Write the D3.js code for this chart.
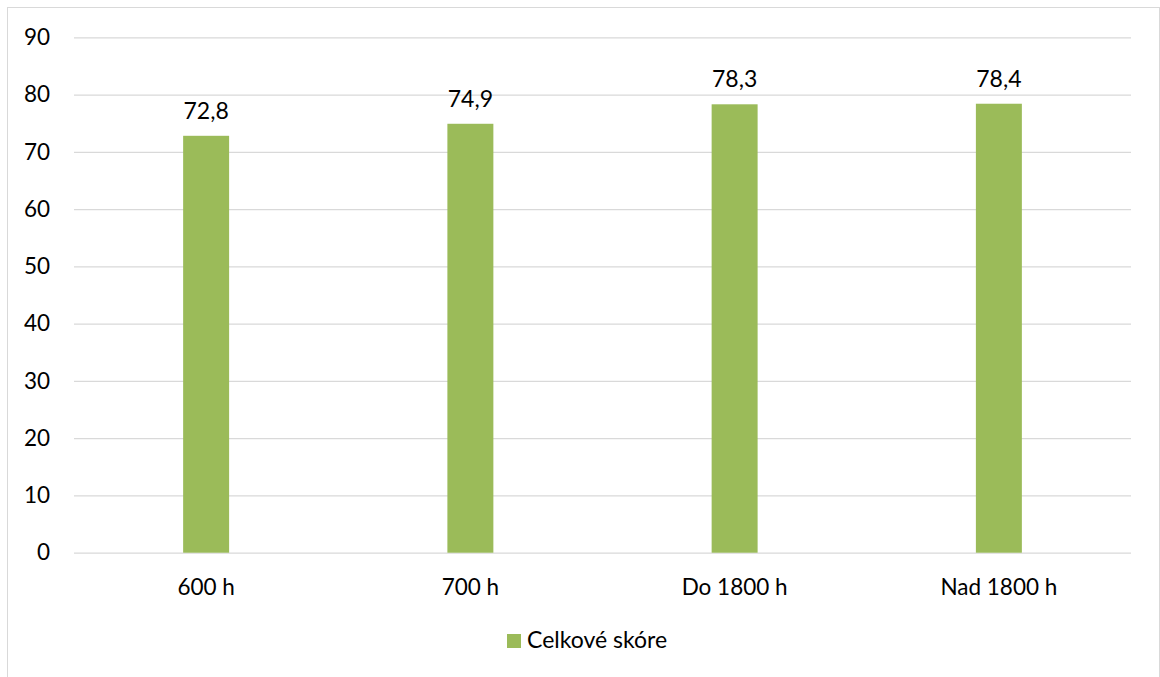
<!DOCTYPE html>
<html><head><meta charset="utf-8">
<script src="https://cdn.jsdelivr.net/npm/d3@7"></script>
<style>
html,body{margin:0;padding:0;background:#fff;}
svg{display:block;font-family:Lato,"Open Sans",sans-serif;}
</style></head>
<body>
<svg id="chart" width="1160" height="677"></svg>
<script>
const categories = ["600 h", "700 h", "Do 1800 h", "Nad 1800 h"];
const values = [72.8, 74.9, 78.3, 78.4];
const yTicks = [0, 10, 20, 30, 40, 50, 60, 70, 80, 90];
const seriesName = "Celkové skóre";

const svg = d3.select("#chart");
const m = {left: 74, right: 1131, top: 37.3, bottom: 552.7};
const color = "#9BBB59";
const grid = "#d9d9d9";

// chart border
svg.append("rect").attr("x", 7.5).attr("y", 7.5).attr("width", 1152).attr("height", 690)
  .attr("fill", "#fff").attr("stroke", grid).attr("stroke-width", 1);

const x = d3.scaleBand().domain(categories).range([m.left, m.right]).paddingInner(0.826).paddingOuter(0.413);
const y = d3.scaleLinear().domain([0, 90]).range([m.bottom, m.top]);

// gridlines + y tick labels
const gAxis = svg.append("g").attr("transform", `translate(${m.left},0)`)
  .call(d3.axisLeft(y).tickValues(yTicks).tickSize(-(m.right - m.left)).tickPadding(24).tickFormat(d3.format("d")));
gAxis.select(".domain").remove();
gAxis.selectAll(".tick line").attr("stroke", grid).attr("stroke-width", 1.2);
gAxis.selectAll(".tick text").attr("fill", "#000").attr("font-size", 22.5).attr("font-family", "Lato");

// bars
svg.append("g").selectAll("rect").data(values).join("rect")
  .attr("x", (d, i) => x(categories[i]))
  .attr("width", x.bandwidth())
  .attr("y", d => y(d))
  .attr("height", d => y(0) - y(d))
  .attr("fill", color);

// value labels
svg.append("g").selectAll("text").data(values).join("text")
  .attr("x", (d, i) => x(categories[i]) + x.bandwidth() / 2)
  .attr("y", d => y(d) - 17)
  .attr("text-anchor", "middle")
  .attr("font-size", 23)
  .attr("fill", "#000")
  .text(d => d3.format(".1f")(d).replace(".", ","));

// x axis labels
const gx = svg.append("g").attr("transform", `translate(0,${m.bottom})`)
  .call(d3.axisBottom(x).tickSize(0).tickPadding(0));
gx.select(".domain").remove();
gx.selectAll(".tick text").attr("fill", "#000").attr("font-size", 22.5).attr("font-family", "Lato")
  .attr("dy", null).attr("y", 42);

// legend
const lg = svg.append("g");
lg.append("rect").attr("x", 507).attr("y", 634).attr("width", 14).attr("height", 14).attr("fill", color);
lg.append("text").attr("x", 527).attr("y", 648).attr("font-size", 23).attr("fill", "#000").text(seriesName);
</script>
</body></html>
